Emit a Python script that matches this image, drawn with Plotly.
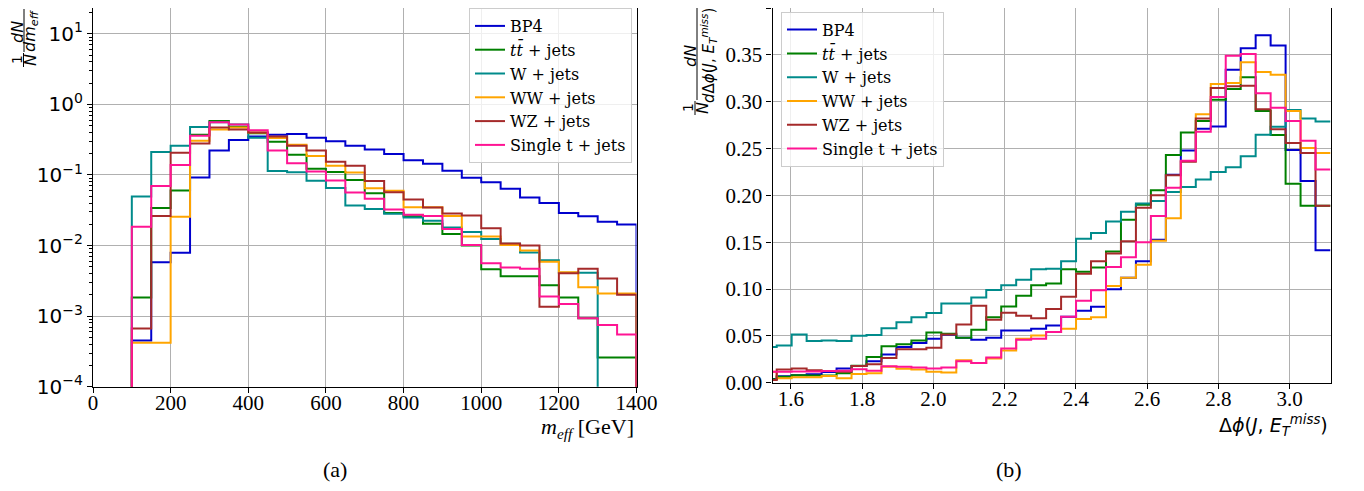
import numpy as np
import plotly.graph_objects as go

# ---------------- data ----------------
series_names = ["BP4", "<i>t</i><i>t\u0304</i> + jets", "W + jets", "WW + jets", "WZ + jets", "Single t + jets"]
colors = ["#0000cd", "#008000", "#008b8b", "#ffa500", "#a52a2a", "#ff1493"]

# (a) m_eff histogram: bins of 50 GeV from 100 to 1400 GeV
meff_lo, meff_hi, meff_bw = 100, 1400, 50
meff_bp4 = [4.5e-4, 5.8e-3, 7.9e-3, 0.092, 0.223, 0.312, 0.35, 0.37, 0.38, 0.337, 0.30, 0.26, 0.23,
            0.198, 0.161, 0.144, 0.115, 0.091, 0.079, 0.064, 0.048, 0.040, 0.029, 0.026, 0.0217, 0.0199]
meff_tt = [1.83e-3, 0.034, 0.060, 0.37, 0.58, 0.48, 0.39, 0.295, 0.193, 0.122, 0.11, 0.085, 0.055,
           0.0288, 0.026, 0.0203, 0.0146, 0.010, 4.6e-3, 3.67e-3, 3.67e-3, 2.74e-3, 1.83e-3, 9.3e-4, 2.6e-4, 2.6e-4]
meff_w = [0.0495, 0.211, 0.26, 0.48, 0.556, 0.52, 0.337, 0.114, 0.109, 0.083, 0.0655, 0.037, 0.033,
          0.0283, 0.025, 0.0224, 0.018, 0.0155, 0.0124, 0.0106, 8.0e-3, 6.2e-3, 4.1e-3, 4.1e-3, 0, 0]
meff_ww = [4.2e-4, 4.2e-4, 0.0255, 0.306, 0.44, 0.47, 0.40, 0.333, 0.268, 0.185, 0.135, 0.108, 0.065,
           0.0596, 0.035, 0.035, 0.0263, 0.0134, 0.0134, 0.0102, 8.5e-3, 5.9e-3, 4.2e-3, 2.56e-3, 2.1e-3, 2.1e-3]
meff_wz = [6.7e-4, 0.0263, 0.206, 0.28, 0.47, 0.44, 0.40, 0.35, 0.26, 0.223, 0.154, 0.135, 0.082,
           0.057, 0.045, 0.0346, 0.0284, 0.0267, 0.0176, 0.0107, 0.010, 1.36e-3, 4.05e-3, 4.7e-3, 3.4e-3, 2.0e-3]
meff_st = [0.0184, 0.070, 0.138, 0.36, 0.556, 0.52, 0.43, 0.223, 0.147, 0.112, 0.0836, 0.0565, 0.046,
           0.0324, 0.0272, 0.0263, 0.0172, 0.0102, 5.6e-3, 4.9e-3, 4.7e-3, 1.9e-3, 1.49e-3, 9.3e-4, 7.5e-4, 5.5e-4]

# (b) delta phi histogram: 38 bins of width 0.042 starting at 1.5186
dphi_lo, dphi_bw, dphi_n = 1.5186, 0.042, 38
dphi_bp4 = [0.004, 0.007, 0.008, 0.009, 0.0115, 0.0152, 0.0177, 0.023, 0.030, 0.0381, 0.0423, 0.0469, 0.0512,
            0.048, 0.0459, 0.048, 0.0557, 0.0557, 0.0575, 0.061, 0.0705, 0.0768, 0.081, 0.0998, 0.112, 0.1297,
            0.1526, 0.222, 0.248, 0.271, 0.2735, 0.334, 0.357, 0.371, 0.360, 0.2485, 0.2153, 0.1413]
dphi_tt = [0.0036, 0.0064, 0.008, 0.0076, 0.0076, 0.010, 0.018, 0.0275, 0.039, 0.041, 0.0451, 0.0536, 0.0522,
           0.048, 0.0565, 0.0698, 0.0814, 0.0927, 0.104, 0.106, 0.121, 0.1184, 0.123, 0.140, 0.174, 0.190,
           0.2055, 0.243, 0.267, 0.2795, 0.302, 0.3136, 0.326, 0.290, 0.2643, 0.2125, 0.189, 0.189]
dphi_w = [0.038, 0.0398, 0.0515, 0.0444, 0.0451, 0.0444, 0.050, 0.0508, 0.058, 0.0645, 0.0698, 0.0744, 0.0846,
          0.0846, 0.0909, 0.099, 0.104, 0.110, 0.121, 0.1216, 0.1297, 0.1537, 0.1597, 0.172, 0.1826, 0.1913,
          0.194, 0.2036, 0.209, 0.217, 0.2248, 0.230, 0.2417, 0.2647, 0.2732, 0.291, 0.282, 0.2788]
dphi_ww = [0.0117, 0.0047, 0.0057, 0.0057, 0.0071, 0.0047, 0.0092, 0.010, 0.0169, 0.015, 0.0141, 0.0116, 0.011,
           0.024, 0.0211, 0.0258, 0.0345, 0.047, 0.0504, 0.054, 0.0575, 0.068, 0.0698, 0.1033, 0.112, 0.126,
           0.1516, 0.1755, 0.2366, 0.2865, 0.319, 0.320, 0.342, 0.3316, 0.3288, 0.290, 0.2505, 0.2453]
dphi_wz = [0.003, 0.0141, 0.0152, 0.0134, 0.0124, 0.0117, 0.0177, 0.0197, 0.0265, 0.0356, 0.0356, 0.0374, 0.0515,
           0.062, 0.0821, 0.0673, 0.0747, 0.0716, 0.0687, 0.0787, 0.0917, 0.1163, 0.1297, 0.138, 0.151, 0.1868,
           0.200, 0.2214, 0.236, 0.282, 0.3147, 0.3165, 0.317, 0.2918, 0.2706, 0.2558, 0.2453, 0.189]
dphi_st = [0.0117, 0.0118, 0.012, 0.012, 0.0125, 0.0127, 0.0144, 0.0127, 0.0176, 0.0169, 0.0163, 0.0152, 0.0163,
           0.0229, 0.0211, 0.0269, 0.0364, 0.0459, 0.047, 0.054, 0.0705, 0.0874, 0.0988, 0.1234, 0.134, 0.150,
           0.178, 0.208, 0.237, 0.268, 0.305, 0.349, 0.351, 0.309, 0.2935, 0.2795, 0.2583, 0.2277]

meff_ticks = [0, 200, 400, 600, 800, 1000, 1200, 1400]
dphi_ticks = [1.6, 1.8, 2.0, 2.2, 2.4, 2.6, 2.8, 3.0]
dphi_yticks = [0.00, 0.05, 0.10, 0.15, 0.20, 0.25, 0.30, 0.35, 0.40]

meff_all = [meff_bp4, meff_tt, meff_w, meff_ww, meff_wz, meff_st]
dphi_all = [dphi_bp4, dphi_tt, dphi_w, dphi_ww, dphi_wz, dphi_st]

# ---------------- figure ----------------
W, H = 1364, 491
OFF = 8  # page body margin of the html page


def px(x):
    return (x - OFF) / W


def py(y):
    return 1 - (y - OFF) / H


SERIF = "Liberation Serif"
LEGSERIF = "DejaVu Serif"
SANS = "DejaVu Sans"
FLOOR = 1e-8

fig = go.Figure()

meff_edges = np.arange(meff_lo, meff_hi + meff_bw / 2, meff_bw)
for name, col, vals in zip(series_names, colors, meff_all):
    v = [max(a, FLOOR) for a in vals]
    xs = [meff_edges[0]] + list(meff_edges) + [meff_edges[-1]]
    ys = [FLOOR] + v + [v[-1], FLOOR]
    fig.add_trace(go.Scatter(x=xs, y=ys, mode="lines", line=dict(color=col, width=2, shape="hv"),
                             name=name, xaxis="x", yaxis="y", legend="legend", showlegend=True))

dphi_edges = dphi_lo + dphi_bw * np.arange(dphi_n + 1)
for name, col, vals in zip(series_names, colors, dphi_all):
    xs = list(dphi_edges)
    ys = list(vals) + [vals[-1]]
    fig.add_trace(go.Scatter(x=xs, y=ys, mode="lines", line=dict(color=col, width=2, shape="hv"),
                             name=name, xaxis="x2", yaxis="y2", legend="legend2", showlegend=True))

grid = "#b0b0b0"
minor_vals = [k * 10.0 ** e for e in range(-4, 2) for k in range(2, 10)]
ytick_vals = [1e-4, 1e-3, 1e-2, 1e-1, 1, 10]
ytick_text = ["10<sup>\u22124</sup>", "10<sup>\u22123</sup>", "10<sup>\u22122</sup>",
              "10<sup>\u22121</sup>", "10<sup>0</sup>", "10<sup>1</sup>"]

axis_common = dict(showline=True, linecolor="black", linewidth=1.2, mirror=True,
                   ticks="outside", ticklen=5, tickcolor="black", showgrid=True,
                   gridcolor=grid, gridwidth=1, zeroline=False, automargin=False)

# left panel: 10^-4 at y=386.7, 70.58 px per decade, top of panel at y=OFF
log_top = -4 + (386.7 - OFF) / 70.58

legend_style = dict(bgcolor="rgba(255,255,255,0.8)", bordercolor="#cccccc", borderwidth=1,
                    font=dict(family=LEGSERIF, size=16, color="black"), tracegroupgap=0, itemwidth=30)

fig.update_layout(
    width=W, height=H,
    paper_bgcolor="white", plot_bgcolor="white",
    margin=dict(l=0, r=0, t=0, b=0, autoexpand=False),
    showlegend=True,
    xaxis=dict(domain=[px(93), px(636.5)], range=[0, 1400], tickvals=meff_ticks,
               tickfont=dict(family=SERIF, size=21, color="black"), anchor="y",
               ticklabelstandoff=-8, **axis_common),
    yaxis=dict(domain=[py(386.7), 1.0], type="log", range=[-4, log_top], tickvals=ytick_vals,
               ticktext=ytick_text, tickfont=dict(family=SANS, size=20, color="black"), anchor="x",
               minor=dict(tickvals=minor_vals, ticks="outside", ticklen=2.5, tickcolor="black", showgrid=False),
               **axis_common),
    xaxis2=dict(domain=[px(772.5), px(1330.5)], range=[1.5488, dphi_edges[-1]], tickvals=dphi_ticks,
                ticktext=["%.1f" % t for t in dphi_ticks],
                tickfont=dict(family=SERIF, size=21, color="black"), anchor="y2",
                ticklabelstandoff=-8, **axis_common),
    yaxis2=dict(domain=[py(382.7), 1.0], range=[0, 0.40], tickvals=dphi_yticks,
                ticktext=["%.2f" % t for t in dphi_yticks],
                tickfont=dict(family=SERIF, size=21, color="black"), anchor="x2", **axis_common),
    legend=dict(x=px(632), y=py(8), xanchor="right", yanchor="top", **legend_style),
    legend2=dict(x=px(781), y=py(11.7), xanchor="left", yanchor="top", **legend_style),
)

ann = []


def text(x, y, s, size=18, family=SERIF, angle=0, xanchor="center", yanchor="middle"):
    ann.append(dict(x=px(x), y=py(y), xref="paper", yref="paper", text=s, showarrow=False,
                    font=dict(family=family, size=size, color="black"), textangle=angle,
                    xanchor=xanchor, yanchor=yanchor))


# x-axis titles
text(636, 428, "<i>m<sub>eff</sub></i> [GeV]", size=22, xanchor="right")
text(1330, 425, "\u0394<i>\u03d5</i>(<i>J</i>, <i>E</i><sub><i>T</i></sub><sup><i>miss</i></sup>)",
     size=19, family=SANS, xanchor="right")
# captions
text(335, 469, "(a)", size=22)
text(1009, 469, "(b)", size=22)

# left y label: 1/N dN/dm_eff (rotated fraction)
text(17, 60, "1", size=14, family=SANS, angle=-90)
text(30, 60, "<i>N</i>", size=16, family=SANS, angle=-90)
text(17, 32, "<i>dN</i>", size=16, family=SANS, angle=-90)
text(31, 31, "<i>dm<sub>eff</sub></i>", size=16, family=SANS, angle=-90)
# right y label: 1/N dN/dDphi(J, E_T^miss)
text(688, 108, "1", size=14, family=SANS, angle=-90)
text(702, 108, "<i>N</i>", size=16, family=SANS, angle=-90)
text(690, 56, "<i>dN</i>", size=16, family=SANS, angle=-90)
text(708, 56, "<i>d</i>\u0394<i>\u03d5</i>(<i>J</i>, <i>E</i><sub><i>T</i></sub><sup><i>miss</i></sup>)",
     size=15, family=SANS, angle=-90)
fig.update_layout(annotations=ann)

shapes = [
    dict(type="line", xref="paper", yref="paper", x0=px(23.5), x1=px(23.5), y0=py(53), y1=py(67),
         line=dict(color="black", width=1)),
    dict(type="line", xref="paper", yref="paper", x0=px(24), x1=px(24), y0=py(9), y1=py(52),
         line=dict(color="black", width=1)),
    dict(type="line", xref="paper", yref="paper", x0=px(695), x1=px(695), y0=py(101), y1=py(115),
         line=dict(color="black", width=1)),
    dict(type="line", xref="paper", yref="paper", x0=px(697), x1=px(697), y0=py(8), y1=py(100),
         line=dict(color="black", width=1)),
]
fig.update_layout(shapes=shapes)

fig.write_html("out.html")
